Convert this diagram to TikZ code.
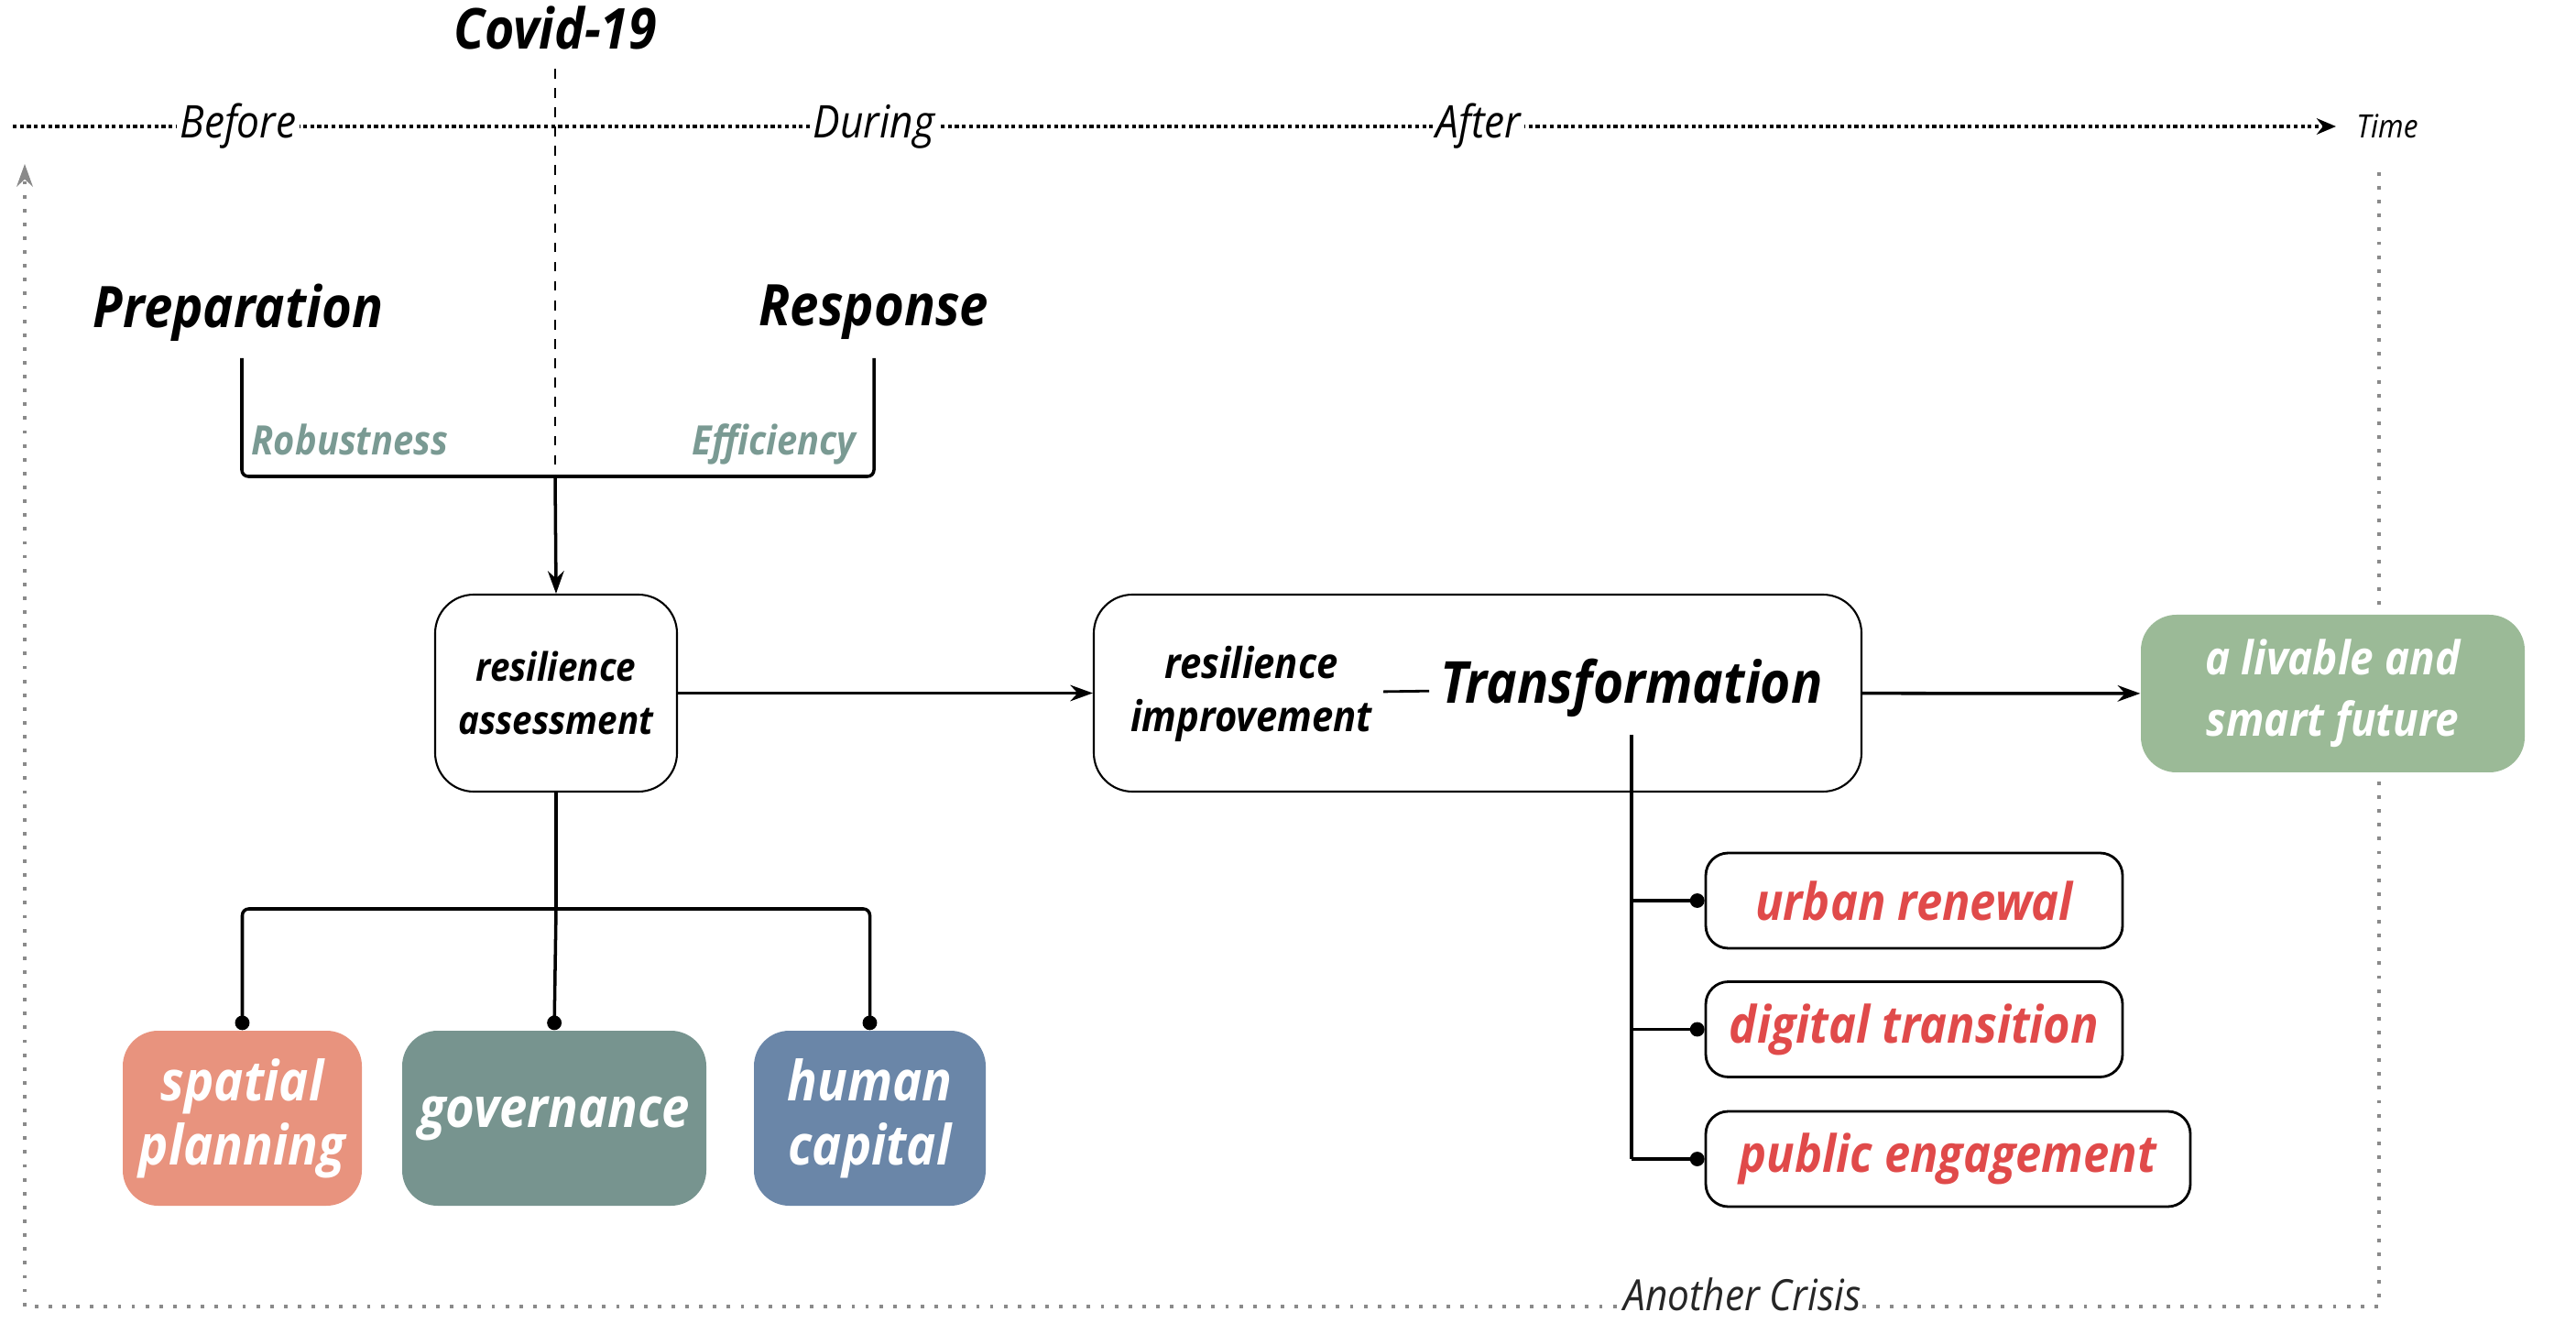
\documentclass[tikz,border=0pt]{standalone}
\usepackage{fontspec}
\setmainfont{Open Sans}[FakeStretch=0.9]
\usetikzlibrary{arrows.meta,positioning}
\definecolor{crisisspatial}{HTML}{E8937E}
\definecolor{crisisgovern}{HTML}{77948F}
\definecolor{crisishuman}{HTML}{6A86A8}
\definecolor{crisisfuture}{HTML}{9BBA97}
\definecolor{crisisred}{HTML}{E04A4A}
\definecolor{crisismeasure}{HTML}{7A9A93}
\definecolor{crisisloop}{HTML}{8A8A8A}

\begin{document}
\begin{tikzpicture}[>={Stealth[length=7pt,width=5pt]},
    phase/.style={font=\fontsize{14}{16}\selectfont\itshape, fill=white, inner sep=1pt},
    stage/.style={font=\fontsize{17.5}{20}\selectfont\bfseries\itshape},
    measure/.style={font=\fontsize{12.6}{15}\selectfont\bfseries\itshape, text=crisismeasure, anchor=base},
    roundbox/.style={rectangle, draw, line width=0.6pt, rounded corners=12pt},
    pillar/.style={rectangle, rounded corners=11pt, text=white, align=center,
        font=\fontsize{17.2}{20}\selectfont\bfseries\itshape},
    action/.style={rectangle, draw, line width=0.8pt, rounded corners=7pt, minimum height=1.04cm,
        text=crisisred, font=\fontsize{16}{19}\selectfont\bfseries\itshape},
    branch/.style={line width=1pt, -{Circle[length=4.5pt]}}]
    \useasboundingbox (0,0) rectangle (28.12,14.43);

    % crisis loop back to the start
    \coordinate (loopstart) at (25.97,12.55);
    \coordinate (loopend) at (0.27,12.64);
    \draw[crisisloop, line width=1.1pt, dash pattern=on 1.1pt off 3.2pt, ->]
        (loopstart) |- (0.27,0.17) -- (loopend);
    \node[phase, font=\fontsize{13.4}{16}\selectfont\itshape, text=black!85, inner sep=0.5pt, anchor=base]
        (another) at (19.02,0.13) {Another Crisis};

    % time axis
    \coordinate (tstart) at (0.14,13.05);
    \coordinate (tend) at (25.50,13.05);
    \draw[line width=1.2pt, densely dotted, -{Stealth[length=6pt,width=5pt]}] (tstart) -- (tend);
    \node[font=\fontsize{10}{12}\selectfont\itshape, right=0.1cm of tend] (time) {Time};

    % covid marker
    \node[stage] (covid) at (6.06,14.13) {Covid-19};
    \coordinate (join) at (6.06,9.23);
    \draw[dashed, line width=0.7pt] (6.06,13.68) -- (join);

    \node[phase] (before) at (2.60,13.05) {Before};
    \node[phase] (during) at (9.54,13.05) {During};
    \node[phase] (after) at (16.14,13.05) {After};

    % preparation and response
    \node[stage, font=\fontsize{17.8}{20}\selectfont\bfseries\itshape] (prep) at (2.60,11.02) {Preparation};
    \node[stage, font=\fontsize{17.8}{20}\selectfont\bfseries\itshape] (resp) at (9.54,11.02) {Response};
    \coordinate (prepfoot) at (2.64,10.52);
    \coordinate (respfoot) at (9.54,10.52);
    \draw[line width=1pt, rounded corners=2pt] (prepfoot) |- (join) -| (respfoot);
    \node[measure] (robust) at (3.82,9.46) {Robustness};
    \node[measure] (effic) at (8.45,9.46) {Efficiency};

    % assessment and improvement
    \node[roundbox, minimum width=2.64cm, minimum height=2.15cm, align=center,
        font=\fontsize{12.2}{16.5}\selectfont\bfseries\itshape] (assess) at (6.07,6.865)
        {resilience\\assessment};
    \draw[->, line width=1pt] (join) -- (assess.north);

    \node[roundbox, minimum width=8.38cm, minimum height=2.15cm] (improve) at (16.13,6.865) {};
    \node[align=center, font=\fontsize{13.2}{16.5}\selectfont\bfseries\itshape] (improvetext) at (13.66,6.86)
        {resilience\\improvement};
    \node[font=\fontsize{18}{21}\selectfont\bfseries\itshape] (transform) at (17.81,6.92) {Transformation};
    \draw[line width=0.8pt] (improvetext) -- (transform);
    \draw[->, line width=1pt] (assess) -- (improve);

    \node[pillar, fill=crisisfuture, minimum width=4.19cm, minimum height=1.72cm,
        font=\fontsize{14.5}{19}\selectfont\bfseries\itshape] (future) at (25.465,6.86)
        {a livable and\\smart future};
    \draw[->, line width=1pt] (improve) -- (future);

    % transformation actions
    \node[action, minimum width=4.55cm] (urban) at (20.895,4.60) {urban renewal};
    \node[action, minimum width=4.55cm] (digital) at (20.895,3.195) {digital transition};
    \node[action, minimum width=5.29cm] (public) at (21.265,1.78) {public engagement};
    \draw[line width=1pt] (17.81,6.41) -- (17.81,1.78);
    \draw[branch] (17.81,4.60) -- (urban.west);
    \draw[branch] (17.81,3.195) -- (digital.west);
    \draw[branch] (17.81,1.78) -- (public.west);

    % assessment pillars
    \node[pillar, fill=crisisspatial, minimum width=2.61cm, minimum height=1.91cm] (spatial) at (2.645,2.225)
        {spatial\\planning};
    \node[pillar, fill=crisisgovern, minimum width=3.32cm, minimum height=1.91cm] (govern) at (6.05,2.225)
        {governance};
    \node[pillar, fill=crisishuman, minimum width=2.53cm, minimum height=1.91cm] (human) at (9.495,2.225)
        {human\\capital};
    \coordinate (split) at (6.07,4.51);
    \draw[line width=1pt] (assess.south) -- (split);
    \draw[branch, rounded corners=2pt] (split) -| (spatial.north);
    \draw[branch] (split) -- (govern.north);
    \draw[branch, rounded corners=2pt] (split) -| (human.north);
\end{tikzpicture}
\end{document}
